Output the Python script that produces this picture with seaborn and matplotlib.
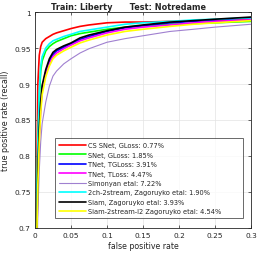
import matplotlib
matplotlib.use('Agg')
import matplotlib.pyplot as plt
import seaborn as sns
import pandas as pd

sns.set_theme(style='whitegrid')
plt.rcParams['font.family'] = ['DejaVu Sans']

# false positive rate grid shared by all curves
fpr = [0, 0.002, 0.004, 0.006, 0.008, 0.01, 0.015, 0.02, 0.025, 0.03, 0.04,
       0.05, 0.0625, 0.075, 0.1, 0.125, 0.15, 0.1875, 0.22, 0.25, 0.3]

cs_snet = [0.30, 0.72, 0.90, 0.94, 0.952, 0.958, 0.963, 0.966, 0.969, 0.971, 0.974,
           0.977, 0.980, 0.982, 0.985, 0.986, 0.986, 0.987, 0.988, 0.988, 0.989]
snet = [0.30, 0.70, 0.81, 0.88, 0.918, 0.932, 0.946, 0.952, 0.956, 0.959, 0.963,
        0.967, 0.970, 0.972, 0.976, 0.979, 0.981, 0.983, 0.984, 0.985, 0.987]
tnet_tg = [0.30, 0.65, 0.77, 0.835, 0.870, 0.894, 0.917, 0.932, 0.941, 0.946, 0.951,
           0.956, 0.962, 0.966, 0.973, 0.978, 0.981, 0.985, 0.987, 0.989, 0.992]
tnet_t = [0.30, 0.65, 0.765, 0.825, 0.865, 0.890, 0.914, 0.928, 0.938, 0.943, 0.949,
          0.954, 0.960, 0.964, 0.971, 0.976, 0.979, 0.982, 0.985, 0.987, 0.989]
simonyan = [0.30, 0.62, 0.72, 0.78, 0.82, 0.845, 0.875, 0.897, 0.911, 0.918, 0.928,
            0.935, 0.943, 0.949, 0.958, 0.963, 0.967, 0.973, 0.976, 0.979, 0.983]
ch2_2stream = [0.30, 0.70, 0.82, 0.89, 0.925, 0.938, 0.950, 0.956, 0.960, 0.962, 0.966,
               0.969, 0.973, 0.975, 0.979, 0.983, 0.985, 0.987, 0.989, 0.990, 0.992]
siam = [0.30, 0.66, 0.78, 0.84, 0.875, 0.898, 0.920, 0.935, 0.944, 0.948, 0.953,
        0.957, 0.964, 0.968, 0.974, 0.979, 0.982, 0.986, 0.988, 0.990, 0.993]
siam_l2 = [0.30, 0.66, 0.76, 0.82, 0.86, 0.885, 0.910, 0.925, 0.935, 0.940, 0.946,
           0.951, 0.957, 0.961, 0.968, 0.973, 0.976, 0.980, 0.983, 0.985, 0.988]

labels = ['CS SNet, GLoss: 0.77%', 'SNet, GLoss: 1.85%', 'TNet, TGLoss: 3.91%',
          'TNet, TLoss: 4.47%', 'Simonyan etal: 7.22%',
          '2ch-2stream, Zagoruyko etal: 1.90%', 'Siam, Zagoruyko etal: 3.93%',
          'Siam-2stream-l2 Zagoruyko etal: 4.54%']
series = [cs_snet, snet, tnet_tg, tnet_t, simonyan, ch2_2stream, siam, siam_l2]
colors = ['#ff0000', '#00ff00', '#0000ff', '#ff00ff', '#a080d0', '#00ffff',
          '#000000', '#ffff00']
widths = [1.2, 1.2, 1.2, 1.2, 0.8, 1.2, 1.2, 1.2]

rows = []
for lab, vals in zip(labels, series):
    for x, y in zip(fpr, vals):
        rows.append({'fpr': x, 'tpr': y, 'method': lab})
df = pd.DataFrame(rows)

fig = plt.figure(figsize=(2.57, 2.55), dpi=100)
ax = fig.add_axes([0.136, 0.102, 0.841, 0.847])

for lab, c, w in zip(labels, colors, widths):
    sns.lineplot(data=df[df['method'] == lab], x='fpr', y='tpr', color=c,
                 linewidth=w, label=lab, ax=ax)

ax.set_xlim(0, 0.3)
ax.set_ylim(0.7, 1.0)
ax.set_xticks([0, 0.05, 0.1, 0.15, 0.2, 0.25, 0.3])
ax.set_xticklabels(['0', '0.05', '0.1', '0.15', '0.2', '0.25', '0.3'])
ax.set_yticks([0.7, 0.75, 0.8, 0.85, 0.9, 0.95, 1.0])
ax.set_yticklabels(['0.7', '0.75', '0.8', '0.85', '0.9', '0.95', '1'])
ax.tick_params(labelsize=5.3, direction='in', length=2, width=0.5, pad=3,
               top=True, right=True, bottom=True, left=True, colors='#262626')
ax.grid(True, color='#e3e3e3', linewidth=0.5)
for s in ax.spines.values():
    s.set_color('#262626')
    s.set_linewidth(0.6)
ax.set_facecolor('white')
ax.set_xlabel('false positive rate', fontsize=5.7, labelpad=2, color='#262626')
ax.set_ylabel('true positive rate (recall)', fontsize=5.8, labelpad=3, color='#262626')
ax.set_title('Train: Liberty      Test: Notredame', fontsize=5.9,
             fontweight='bold', pad=2, x=0.435)

leg = ax.legend(loc='lower left', bbox_to_anchor=(0.0926, 0.046, 0.870, 0.375),
                mode='expand', borderaxespad=0, fontsize=4.8,
                handlelength=4.1, labelspacing=0.52, borderpad=0.55,
                handletextpad=0.3, frameon=True, fancybox=False)
leg.get_frame().set_edgecolor('#262626')
leg.get_frame().set_linewidth(0.6)

fig.savefig('out.png', dpi=100)
